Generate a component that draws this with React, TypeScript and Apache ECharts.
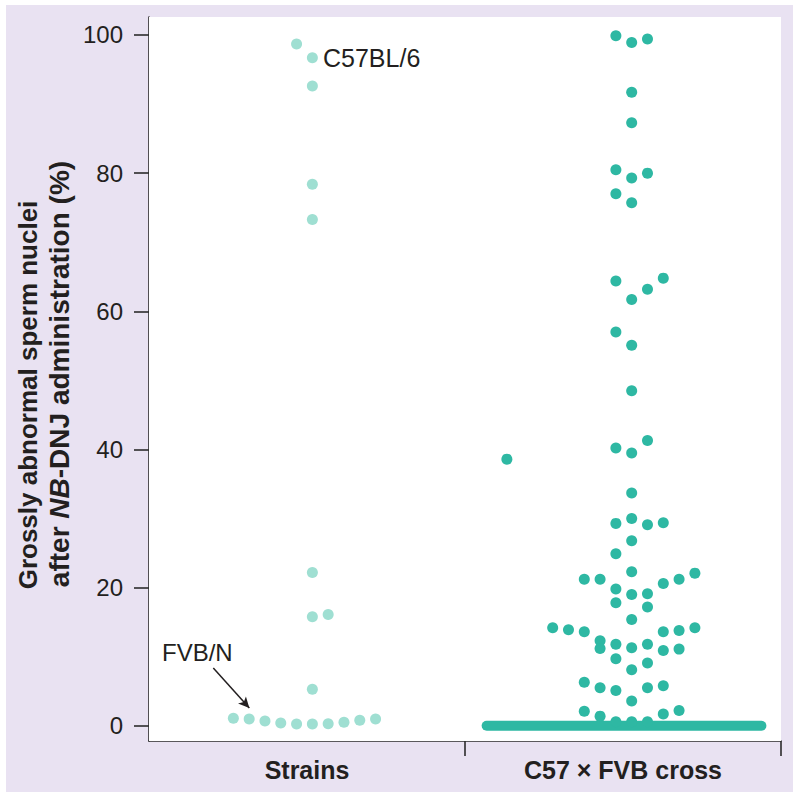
import React, { useEffect, useRef } from 'react';
import * as echarts from 'echarts';

// ---- data ----
const categories = ['Strains', 'C57 × FVB cross'];
const categoryCenters = [10, 30]; // x-axis units (one unit = one dot column)
const categoryBounds = [20, 40];
const yTicks = [0, 20, 40, 60, 80, 100];

// Strains group (light teal)
const strainsColumn = 10.34;
const strainsOffsets = [-1, 0, 0, 0, 0, 0, 0, 1, 0, -5, -4, -3, -2, -1, 0, 1, 2, 3, 4];
const strainsValues = [98.7, 96.7, 92.6, 78.4, 73.3, 22.2, 15.8, 16.1, 5.3, 1.1, 1.0, 0.7, 0.4, 0.25, 0.25, 0.3, 0.5, 0.8, 1.0];

// C57 x FVB cross group (teal)
const crossColumn = 30.55;
const crossOffsets = [
  -1, 0, 1, 0, 0, -1, 0, 1, -1, 0,
  -1, 0, 1, 2, -1, 0, 0, -7.9, -1, 0,
  1, 0, -1, 0, 1, 2, 0, -1, -3, -2,
  0, -1, 0, 1, 2, 3, 4, -1, 1, 0,
  -5, -4, -3, -2, -2, -1, 0, 1, 2, 3,
  4, 2, 3, -1, 1, 0, -3, -2, -1, 1,
  2, 0, -3, -2, 2, 3, -1, 0, 1,
];
const crossValues = [
  99.9, 98.9, 99.4, 91.7, 87.3, 80.5, 79.3, 80.0, 77.0, 75.7,
  64.4, 61.7, 63.2, 64.8, 57.0, 55.1, 48.5, 38.6, 40.2, 39.5,
  41.3, 33.7, 29.3, 30.0, 29.1, 29.4, 26.8, 24.9, 21.2, 21.2,
  22.3, 19.8, 19.0, 19.1, 20.6, 21.2, 22.1, 17.8, 17.2, 15.4,
  14.2, 13.9, 13.6, 12.3, 11.2, 11.8, 11.3, 11.8, 13.6, 13.8,
  14.2, 10.9, 11.1, 9.7, 9.1, 8.1, 6.3, 5.5, 5.1, 5.5,
  5.8, 3.6, 2.1, 1.4, 1.7, 2.2, 0.6, 0.6, 0.6,
];
// the many animals at 0 % overlap into one solid run
const crossZeroRun = [21.37, 38.76];
const crossZeroValue = 0;

// annotation arrow (FVB/N), in data units
const arrowFrom = [4.07, 8.35];
const arrowTo = [6.35, 2.56];

const TEXT = '#231f20';
const AXIS = '#2b2b2b';
const FONT = '"Liberation Sans", Arial, Helvetica, sans-serif';

export default function App() {
  const ref = useRef<HTMLDivElement>(null);

  useEffect(() => {
    const chart = echarts.init(ref.current!, null, { renderer: 'svg' });

    const strainsData = strainsOffsets.map((o, i) => [strainsColumn + o, strainsValues[i]]);
    const crossData = crossOffsets.map((o, i) => [crossColumn + o, crossValues[i]]);

    chart.setOption({
      animation: false,
      backgroundColor: '#ffffff',
      grid: {
        left: 149,
        top: 17,
        right: 19,
        bottom: 58,
        show: true,
        backgroundColor: '#ffffff',
        borderWidth: 0,
        z: 1,
      },
      xAxis: {
        type: 'value',
        min: 0,
        max: 40,
        axisLine: { show: true, onZero: false, lineStyle: { color: AXIS, width: 1.6 } },
        axisTick: {
          show: true,
          inside: false,
          length: 15,
          customValues: categoryBounds,
          lineStyle: { color: AXIS, width: 1.6 },
        },
        axisLabel: {
          customValues: categoryCenters,
          formatter: (v: number) => categories[categoryCenters.indexOf(Math.round(v))] ?? '',
          margin: 16,
          fontSize: 25,
          fontWeight: 'bold',
          color: TEXT,
          fontFamily: FONT,
        },
        splitLine: { show: false },
      },
      yAxis: {
        type: 'value',
        min: -2.2,
        max: 102.6,
        axisLine: { show: true, onZero: false, lineStyle: { color: AXIS, width: 1.6 } },
        axisTick: {
          show: true,
          inside: false,
          length: 15,
          customValues: yTicks,
          lineStyle: { color: AXIS, width: 1.6 },
        },
        axisLabel: {
          customValues: yTicks,
          margin: 26,
          fontSize: 24,
          color: TEXT,
          fontFamily: FONT,
        },
        splitLine: { show: false },
      },
      graphic: [
        {
          type: 'rect',
          z: -10,
          silent: true,
          shape: { x: 6, y: 5, width: 787, height: 787 },
          style: { fill: '#e9e2f2' },
        },
        {
          type: 'text',
          z: 100,
          x: 28,
          y: 395,
          rotation: Math.PI / 2,
          style: {
            text: 'Grossly abnormal sperm nuclei',
            align: 'center',
            verticalAlign: 'middle',
            fill: TEXT,
            fontSize: 26,
            fontWeight: 'bold',
            fontFamily: FONT,
          },
        },
        {
          type: 'text',
          z: 100,
          x: 59,
          y: 374,
          rotation: Math.PI / 2,
          style: {
            text: '{b|after }{i|NB}{b|-DNJ administration (%)}',
            align: 'center',
            verticalAlign: 'middle',
            fill: TEXT,
            fontSize: 28,
            fontWeight: 'bold',
            fontFamily: FONT,
            rich: {
              b: { fill: TEXT, fontSize: 28, fontWeight: 'bold', fontFamily: FONT },
              i: { fill: TEXT, fontSize: 28, fontWeight: 'bold', fontStyle: 'italic', fontFamily: FONT },
            },
          },
        },
        {
          type: 'text',
          z: 100,
          x: 323,
          y: 58,
          style: {
            text: 'C57BL/6',
            align: 'left',
            verticalAlign: 'middle',
            fill: TEXT,
            fontSize: 25,
            fontFamily: FONT,
          },
        },
        {
          type: 'text',
          z: 100,
          x: 162,
          y: 652,
          style: {
            text: 'FVB/N',
            align: 'left',
            verticalAlign: 'middle',
            fill: TEXT,
            fontSize: 24,
            fontFamily: FONT,
          },
        },
      ],
      series: [
        {
          name: 'Strains',
          type: 'scatter',
          data: strainsData,
          symbol: 'circle',
          symbolSize: 11,
          itemStyle: { color: '#9fdfd2', opacity: 1 },
          z: 3,
          markLine: {
            silent: true,
            symbol: ['none', 'arrow'],
            symbolSize: [8, 11],
            label: { show: false },
            lineStyle: { color: TEXT, width: 1.5, type: 'solid' },
            data: [[{ coord: arrowFrom }, { coord: arrowTo }]],
          },
        },
        {
          name: 'C57 × FVB cross zero',
          type: 'line',
          data: crossZeroRun.map((x) => [x, crossZeroValue]),
          showSymbol: false,
          symbol: 'none',
          lineStyle: { color: '#2eb8a3', width: 10, cap: 'round' },
          z: 2,
        },
        {
          name: 'C57 × FVB cross',
          type: 'scatter',
          data: crossData,
          symbol: 'circle',
          symbolSize: 11,
          itemStyle: { color: '#2eb8a3', opacity: 1 },
          z: 3,
        },
      ],
    });

    return () => chart.dispose();
  }, []);

  return (
    <div
      ref={ref}
      style={{ position: 'fixed', left: 0, top: 0, width: 800, height: 799 }}
    />
  );
}
